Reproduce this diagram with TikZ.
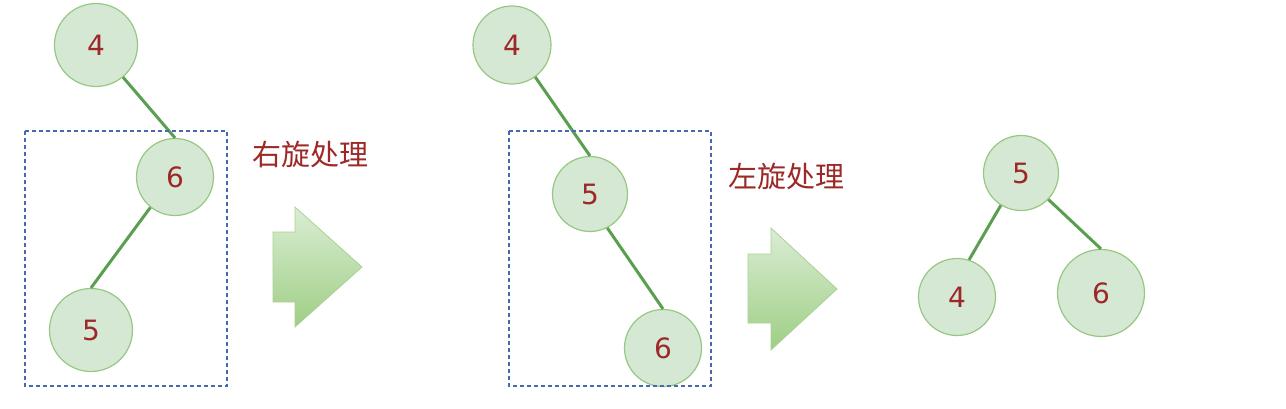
\documentclass[tikz,border=0pt]{standalone}
\usepackage{fontspec}
\setmainfont{DejaVu Sans}
\newfontfamily\cjk{Noto Sans CJK SC}
\definecolor{nodefill}{RGB}{213,232,212}
\definecolor{nodedraw}{RGB}{150,200,130}
\definecolor{edgecol}{RGB}{90,158,80}
\definecolor{txtred}{RGB}{158,40,40}
\definecolor{boxblue}{RGB}{70,105,180}
\definecolor{arrtop}{RGB}{218,237,212}
\definecolor{arrbot}{RGB}{158,206,132}
\definecolor{arrdraw}{RGB}{170,210,150}
\begin{document}
\begin{tikzpicture}[x=1pt,y=-1pt,
  tnode/.style={circle,fill=nodefill,draw=nodedraw,line width=1.2pt,inner sep=0pt,
    text=txtred,font=\fontsize{28}{28}\selectfont},
  tedge/.style={draw=edgecol,line width=3pt},
  selbox/.style={draw=boxblue,line width=1.4pt,dash pattern=on 4pt off 3pt},
  lbl/.style={text=txtred,font=\cjk\fontsize{29}{29}\selectfont,inner sep=0pt},
  blockarrow/.style={top color=arrtop,bottom color=arrbot,draw=arrdraw,line width=0.8pt}]
\useasboundingbox (0,0) rectangle (1286,408);
% left tree
\node[tnode,minimum size=83pt] (a4) at (96,45) {4};
\node[tnode,minimum size=77pt] (a6) at (175,177) {6};
\node[tnode,minimum size=83pt] (a5) at (91,330) {5};
\draw[tedge] (a4.-50) -- (a6.north);
\draw[tedge] (a6.-129) -- (a5.north);
\draw[selbox] (25,131) rectangle (227,386);
\node[lbl] (t1) at (310,154) {右旋处理};
\shade[blockarrow] (273,232) -- (295,232) -- (295,207) -- (362,267) -- (295,327) -- (295,302) -- (273,302) -- cycle;
% middle tree
\node[tnode,minimum size=78pt] (b4) at (512,45) {4};
\node[tnode,minimum size=75pt] (b5) at (590,194) {5};
\node[tnode,minimum size=77pt] (b6) at (663,348) {6};
\draw[tedge] (b4.-54) -- (b5.north);
\draw[tedge] (b5.-63) -- (b6.north);
\draw[selbox] (509,131) rectangle (711,386);
\node[lbl] (t2) at (786,176) {左旋处理};
\shade[blockarrow] (748,254) -- (771,254) -- (771,228) -- (837,289) -- (771,350) -- (771,323) -- (748,323) -- cycle;
% right tree
\node[tnode,minimum size=75pt] (c5) at (1021,173) {5};
\node[tnode,minimum size=77pt] (c4) at (957,297) {4};
\node[tnode,minimum size=87pt] (c6) at (1101,293) {6};
\draw[tedge] (c5.-122) -- (c4.72);
\draw[tedge] (c5.-44) -- (c6.north);
\end{tikzpicture}
\end{document}
